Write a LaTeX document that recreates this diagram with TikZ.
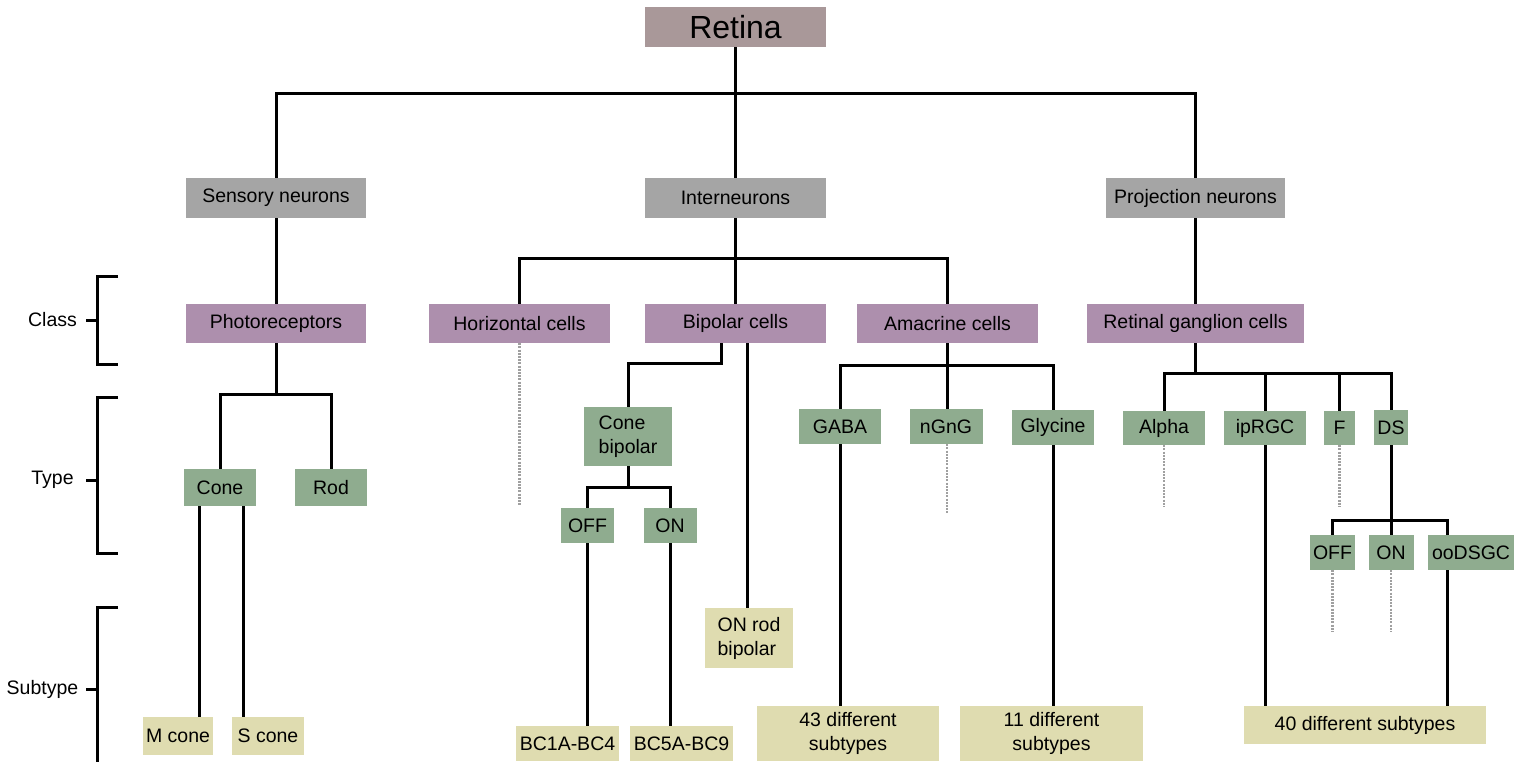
\documentclass[tikz,border=0pt]{standalone}
\usepackage{fontspec}
\setmainfont{Liberation Sans}
\definecolor{retinaC}{RGB}{169,152,153}
\definecolor{grayC}{RGB}{165,165,165}
\definecolor{purpleC}{RGB}{173,143,173}
\definecolor{greenC}{RGB}{143,172,143}
\definecolor{yellowC}{RGB}{223,220,176}
\definecolor{dotC}{RGB}{160,160,160}
\begin{document}
\begin{tikzpicture}[x=1pt,y=-1pt,
  conn/.style={draw=black, line width=3pt, line join=miter},
  dots/.style={draw=dotC, line width=2.5pt, dash pattern=on 2pt off 1.2pt},
  box/.style={rectangle, inner sep=0pt, text=black, font=\fontsize{19.5}{24}\selectfont, align=center},
  grayb/.style={box, fill=grayC},
  purpb/.style={box, fill=purpleC},
  greenb/.style={box, fill=greenC},
  yellb/.style={box, fill=yellowC},
  lbl/.style={inner sep=0pt, text=black, font=\fontsize{19.5}{24}\selectfont}
]
\useasboundingbox (0,0) rectangle (1526,761);

% level 0
\node[box, fill=retinaC, minimum width=181pt, minimum height=40pt, font=\fontsize{32}{38}\selectfont] (retina) at (735.5,27) {Retina};
% level 1
\node[grayb, minimum width=180pt, minimum height=40pt] (sensory) at (276,198) {Sensory neurons};
\node[grayb, minimum width=181pt, minimum height=40pt] (inter) at (735.5,198) {Interneurons};
\node[grayb, minimum width=179pt, minimum height=40pt] (proj) at (1195.5,198) {Projection neurons};
% class
\node[purpb, minimum width=180pt, minimum height=39pt] (photo) at (276,323.5) {Photoreceptors};
\node[purpb, minimum width=181pt, minimum height=39pt] (horiz) at (519.5,323.5) {Horizontal cells};
\node[purpb, minimum width=181pt, minimum height=39pt] (bipolar) at (735.5,323.5) {Bipolar cells};
\node[purpb, minimum width=181pt, minimum height=39pt] (amac) at (947.5,323.5) {Amacrine cells};
\node[purpb, minimum width=217pt, minimum height=39pt] (rgc) at (1195.5,323.5) {Retinal ganglion cells};
% type
\node[greenb, minimum width=72pt, minimum height=37pt] (cone) at (220,487.5) {Cone};
\node[greenb, minimum width=72pt, minimum height=37pt] (rod) at (331,487.5) {Rod};
\node[greenb, minimum width=88pt, minimum height=59pt, align=left] (conebip) at (628,436.5) {Cone\\bipolar};
\node[greenb, minimum width=53pt, minimum height=35pt] (off1) at (587.5,525.5) {OFF};
\node[greenb, minimum width=53pt, minimum height=35pt] (on1) at (670,525.5) {ON};
\node[greenb, minimum width=82pt, minimum height=35pt] (gaba) at (840,426.5) {GABA};
\node[greenb, minimum width=73pt, minimum height=35pt] (ngng) at (946,426.5) {nGnG};
\node[greenb, minimum width=82pt, minimum height=35pt] (glyc) at (1053,427.5) {Glycine};
\node[greenb, minimum width=82pt, minimum height=34pt] (alpha) at (1164,428) {Alpha};
\node[greenb, minimum width=82pt, minimum height=34pt] (iprgc) at (1265,428) {ipRGC};
\node[greenb, minimum width=31pt, minimum height=34pt] (F) at (1339.5,428) {F};
\node[greenb, minimum width=34pt, minimum height=35pt] (ds) at (1391,427.5) {DS};
\node[greenb, minimum width=45pt, minimum height=35pt] (off2) at (1332.5,552.5) {OFF};
\node[greenb, minimum width=45pt, minimum height=35pt] (on2) at (1391,552.5) {ON};
\node[greenb, minimum width=86pt, minimum height=35pt] (oodsgc) at (1471,552.5) {ooDSGC};
% subtype
\node[yellb, minimum width=70pt, minimum height=38pt] (mcone) at (178,736) {M cone};
\node[yellb, minimum width=72pt, minimum height=38pt] (scone) at (268,736) {S cone};
\node[yellb, minimum width=103pt, minimum height=35pt] (bc14) at (567.5,743.5) {BC1A-BC4};
\node[yellb, minimum width=103pt, minimum height=35pt] (bc59) at (681.5,743.5) {BC5A-BC9};
\node[yellb, minimum width=88pt, minimum height=60pt, align=left] (onrod) at (749,638) {ON rod\\bipolar};
\node[yellb, minimum width=182pt, minimum height=55pt] (sub43) at (848,733.5) {43 different\\subtypes};
\node[yellb, minimum width=183pt, minimum height=55pt] (sub11) at (1051.5,733.5) {11 different\\subtypes};
\node[yellb, minimum width=242pt, minimum height=38pt] (sub40) at (1365,725) {40 different subtypes};

% level labels and brackets
\node[lbl] (lclass) at (52.5,320) {Class};
\node[lbl] (ltype) at (52.5,480) {Type};
\node[lbl] (lsub) at (42.5,689) {Subtype};
\draw[conn] (118,276) -- (97,276) -- (97,364) -- (118,364);
\draw[conn] (86,320) -- (97,320);
\draw[conn] (118,397) -- (97,397) -- (97,553) -- (118,553);
\draw[conn] (86,480) -- (97,480);
\draw[conn] (118,607) -- (97,607) -- (97,775);
\draw[conn] (86,689) -- (97,689);

% junction coordinates
\coordinate (top) at (736,93);
\coordinate (ib) at (736,258);
\coordinate (pb) at (276,394);
\coordinate (xM) at (199,0);
\coordinate (xS) at (243,0);
\coordinate (xB1) at (721,363);
\coordinate (xB2) at (747,0);
\coordinate (cb) at (629,487);
\coordinate (ab) at (947,365);
\coordinate (rb) at (1196,373);
\coordinate (xoo) at (1447,520);

% connectors
\draw[conn] (retina.south) -- (inter.north);
\draw[conn] (sensory.north) |- (proj.north |- top) -- (proj.north);
\draw[conn] (sensory.south) -- (photo.north);
\draw[conn] (proj.south) -- (rgc.north);
\draw[conn] (inter.south) -- (bipolar.north);
\draw[conn] (horiz.north) |- (amac.north |- ib) -- (amac.north);

\draw[conn] (photo.south) -- (photo.south |- pb);
\draw[conn] (cone.north) |- (rod.north |- pb) -- (rod.north);
\draw[conn] (cone.south -| xM) -- (mcone.north -| xM);
\draw[conn] (cone.south -| xS) -- (scone.north -| xS);

\draw[dots] (horiz.south) -- ++(0,163);

\draw[conn] (bipolar.south -| xB1) -- (xB1) -| (conebip.north);
\draw[conn] (bipolar.south -| xB2) -- (onrod.north -| xB2);
\draw[conn] (conebip.south) -- (conebip.south |- cb);
\draw[conn] (off1.north) |- (on1.north |- cb) -- (on1.north);
\draw[conn] (off1.south) -- (off1.south |- bc14.north);
\draw[conn] (on1.south) -- (on1.south |- bc59.north);

\draw[conn] (amac.south) -- (amac.south |- ngng.north);
\draw[conn] (gaba.north) |- (glyc.north |- ab) -- (glyc.north);
\draw[conn] (gaba.south) -- (gaba.south |- sub43.north);
\draw[conn] (glyc.south) -- (glyc.south |- sub11.north);
\draw[dots] (ngng.south -| ab) -- ++(0,69);

\draw[conn] (rgc.south) -- (rgc.south |- rb);
\draw[conn] (alpha.north) |- (ds.north |- rb) -- (ds.north);
\draw[conn] (iprgc.north) -- (iprgc.north |- rb);
\draw[conn] (F.north) -- (F.north |- rb);
\draw[dots] (alpha.south) -- ++(0,62);
\draw[dots] (F.south) -- ++(0,61);
\draw[conn] (iprgc.south) -- (iprgc.south |- sub40.north);
\draw[conn] (ds.south) -- (ds.south |- on2.north);
\draw[conn] (off2.north) |- (xoo) -- (xoo |- oodsgc.north);
\draw[conn] (oodsgc.south -| xoo) -- (xoo |- sub40.north);
\draw[dots] (off2.south) -- ++(0,62);
\draw[dots] (on2.south) -- ++(0,62);
\end{tikzpicture}
\end{document}
